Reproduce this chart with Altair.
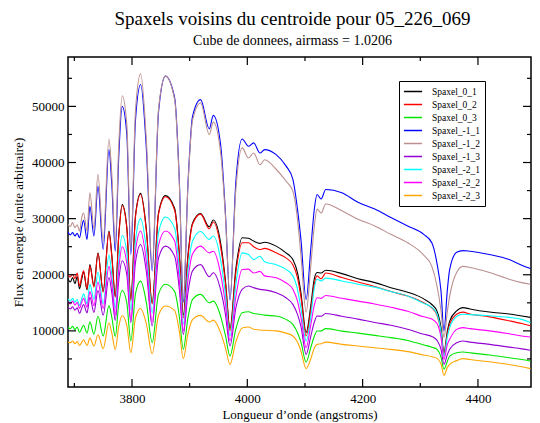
import altair as alt
import pandas as pd

WAVELENGTH = [3689, 3693, 3697, 3701, 3705, 3709, 3713, 3716, 3722, 3727,
              3734, 3741, 3750, 3760, 3765, 3771, 3777, 3783, 3791, 3798,
              3806, 3815, 3825, 3835, 3846, 3858, 3874, 3882, 3889, 3897,
              3905, 3919, 3934, 3941, 3954, 3962, 3970, 3980, 3991, 4002,
              4011, 4022, 4030, 4050, 4067, 4079, 4087, 4093, 4102, 4110,
              4116, 4121, 4128, 4136, 4164, 4192, 4221, 4249, 4278, 4306,
              4320, 4329, 4336, 4341, 4347, 4351, 4363, 4374, 4386, 4420,
              4454, 4476, 4491]

SPAXEL_0_1 = [19300, 18700, 19500, 18400, 19700, 17500, 19300, 20500, 17300, 21800,
              18000, 23900, 17100, 27800, 23500, 16200, 27000, 32500, 28500, 15600,
              30500, 34500, 28000, 15000, 31000, 34100, 31800, 24000, 12800, 23500,
              29200, 30900, 28550, 29750, 25500, 19000, 10500, 21000, 26600, 26500,
              26000, 25600, 25800, 25100, 23900, 22700, 20400, 16800, 9700, 14400,
              19200, 20400, 20300, 20800, 20200, 19300, 18600, 17700, 16900, 15700,
              14700, 13500, 10500, 6120, 10000, 11750, 13550, 14150, 13900, 13350,
              13000, 12650, 12400]

SPAXEL_0_2 = [20000, 19600, 20100, 19300, 20300, 18000, 19800, 20700, 17500, 21600,
              17800, 23800, 16900, 27600, 23200, 16000, 26800, 32300, 28200, 15300,
              30300, 34300, 27700, 14800, 30800, 33900, 31500, 23500, 12300, 23000,
              29000, 30800, 28200, 29400, 24800, 18500, 10000, 20300, 25700, 25700,
              25000, 24500, 24700, 23900, 23000, 21800, 19500, 16000, 9100, 13600,
              18300, 19800, 19300, 20300, 19500, 18700, 17900, 17000, 16200, 15000,
              14100, 12800, 9800, 5800, 9500, 11150, 12950, 13350, 13000, 12500,
              11800, 11300, 10900]

SPAXEL_0_3 = [10600, 10400, 10800, 10200, 10700, 9700, 10500, 11000, 9600, 11600,
              9400, 12600, 9080, 14500, 12400, 9000, 14800, 17200, 15000, 8200,
              16600, 18870, 15000, 7900, 16600, 18300, 17000, 12600, 6710, 12300,
              15600, 16500, 15020, 15300, 12500, 9200, 5520, 10300, 13240, 13400,
              13100, 12950, 12800, 12640, 12050, 11160, 9680, 8000, 4450, 7000,
              9000, 9970, 10000, 10400, 9950, 9600, 9200, 8800, 8300, 7500,
              7100, 6700, 5300, 3150, 4600, 5500, 6100, 6230, 6100, 5700,
              5200, 4900, 4630]

SPAXEL_M1_1 = [27600, 27100, 27500, 26900, 27400, 26600, 28600, 29700, 26300, 32200,
               26900, 35800, 24500, 42300, 36000, 24200, 41000, 50000, 45000, 23600,
               47500, 53900, 42300, 20700, 49000, 55400, 51500, 37000, 15100, 36000,
               48200, 51200, 46000, 48400, 42900, 31000, 15500, 36400, 44200, 42900,
               43500, 41700, 42300, 41400, 39400, 37000, 31700, 26300, 15600, 24500,
               31500, 34300, 33500, 35200, 34600, 32900, 31700, 30200, 28700, 27200,
               25700, 22000, 17000, 9970, 17400, 20950, 24000, 24300, 24200, 23600,
               22700, 21700, 21100]

SPAXEL_M1_2 = [29000, 28600, 29300, 28400, 28900, 27800, 30300, 31000, 27800, 34600,
               28200, 37900, 26000, 44200, 37800, 25500, 43000, 51900, 46800, 24800,
               49200, 55800, 43800, 21500, 49500, 55400, 51200, 36500, 15800, 35800,
               47500, 50600, 45000, 47200, 41500, 30500, 16000, 35000, 42600, 40800,
               41700, 39600, 40500, 38800, 36700, 34900, 29900, 23500, 13350, 21500,
               28500, 31700, 31000, 32600, 31400, 29900, 28700, 27200, 25700, 23500,
               21500, 18000, 13500, 8800, 13500, 16200, 20400, 21500, 21300, 20400,
               19200, 18600, 18300]

SPAXEL_M1_3 = [14200, 13900, 14300, 13700, 14100, 13100, 14100, 14700, 13200, 16000,
               13300, 17200, 12800, 19500, 16800, 11900, 19000, 22500, 20000, 11500,
               22200, 25400, 20500, 10900, 23000, 25100, 23300, 17500, 9380, 16800,
               20700, 21800, 19650, 20360, 17200, 13000, 7300, 14000, 17400, 18000,
               17700, 17400, 17300, 16800, 15900, 14720, 12940, 10800, 5800, 9000,
               11500, 12650, 12600, 13100, 12600, 12100, 11500, 11000, 10300, 9400,
               9000, 8300, 6700, 4040, 5800, 6720, 7900, 8200, 8000, 7600,
               7100, 6800, 6540]

SPAXEL_M2_1 = [15700, 15300, 15800, 15100, 15600, 14500, 15800, 16600, 14800, 18300,
               15600, 20500, 14800, 23500, 20000, 14000, 22500, 27000, 24000, 13700,
               26000, 30000, 24500, 13200, 27500, 30300, 28300, 21000, 11200, 20800,
               26000, 27700, 26300, 26900, 22500, 16500, 9100, 18200, 23900, 23600,
               22700, 23300, 22300, 21800, 20950, 19800, 17400, 14000, 8200, 12500,
               17500, 19200, 18900, 19400, 18900, 18300, 17800, 17000, 16200, 14900,
               14200, 13000, 9800, 5500, 9000, 10600, 12550, 12950, 12900, 12700,
               12400, 12050, 11500]

SPAXEL_M2_2 = [15200, 14800, 15300, 14600, 15100, 14000, 15200, 15800, 14200, 17000,
               14500, 18700, 14000, 21500, 18500, 12800, 21000, 25000, 22000, 11900,
               24200, 27800, 22300, 11600, 25300, 27800, 26000, 19000, 9970, 19000,
               23700, 25100, 23900, 24200, 20000, 14800, 8200, 16000, 20950, 21000,
               20300, 20600, 19800, 19470, 18580, 17400, 15300, 12400, 7000, 11000,
               14500, 15900, 15800, 16300, 15800, 15300, 14800, 14200, 13500, 12500,
               12100, 11300, 8800, 4930, 7600, 8500, 10270, 10580, 10400, 10000,
               9500, 9100, 8900]

SPAXEL_M2_3 = [8000, 7900, 8200, 7700, 8100, 7400, 8000, 8400, 7400, 8700,
               7300, 9300, 6830, 11400, 9600, 6700, 10800, 12700, 11000, 6120,
               12300, 14000, 11200, 5950, 12800, 14420, 13600, 10000, 5060, 9500,
               12000, 12760, 11570, 11920, 9600, 7000, 4040, 8000, 10500, 10700,
               10300, 10150, 10100, 10000, 9600, 9080, 8000, 6400, 3280, 5000,
               6900, 7600, 7700, 8000, 7600, 7300, 7000, 6700, 6300, 5700,
               5400, 5100, 4100, 2080, 3500, 4040, 4700, 5050, 4900, 4500,
               4000, 3600, 3280]

SERIES = ["Spaxel_0_1", "Spaxel_0_2", "Spaxel_0_3", "Spaxel_-1_1", "Spaxel_-1_2",
          "Spaxel_-1_3", "Spaxel_-2_1", "Spaxel_-2_2", "Spaxel_-2_3"]
VALUES = [SPAXEL_0_1, SPAXEL_0_2, SPAXEL_0_3, SPAXEL_M1_1, SPAXEL_M1_2,
          SPAXEL_M1_3, SPAXEL_M2_1, SPAXEL_M2_2, SPAXEL_M2_3]
COLORS = ["#000000", "#ff0000", "#00e600", "#0000ff", "#bc8f8f",
          "#9400d3", "#00ffff", "#ff00ff", "#ffa500"]

X_MAJOR = [3800, 4000, 4200, 4400]
X_MINOR = [3700, 3900, 4100, 4300]
Y_MAJOR = [10000, 20000, 30000, 40000, 50000]
Y_MINOR = [5000, 15000, 25000, 35000, 45000, 55000]
X_DOMAIN = [3689, 4492]
Y_DOMAIN = [0, 58800]

W, H = 463, 330
SERIF = "Liberation Serif, Times New Roman, Times, serif"

rows = []
for k, (name, vals) in enumerate(zip(SERIES, VALUES)):
    for w, v in zip(WAVELENGTH, vals):
        rows.append({"series": name, "k": k, "wl": w, "flux": v})
df = pd.DataFrame(rows)

xscale = alt.Scale(domain=X_DOMAIN, nice=False, zero=False)
yscale = alt.Scale(domain=Y_DOMAIN, nice=False, zero=False)

lines = alt.Chart(df).mark_line(strokeWidth=1.1, clip=True, interpolate="monotone").encode(
    x=alt.X("wl:Q", scale=xscale,
            axis=alt.Axis(values=X_MAJOR, ticks=False, domain=False, grid=False,
                          format="d", title="Longueur d\u2019onde (angstroms)",
                          labelFont=SERIF, labelFontSize=13, labelColor="black",
                          labelPadding=5, titleFont=SERIF, titleFontSize=13,
                          titleFontWeight="normal", titleColor="black", titlePadding=3)),
    y=alt.Y("flux:Q", scale=yscale,
            axis=alt.Axis(values=Y_MAJOR, ticks=False, domain=False, grid=False,
                          format="d", title="Flux en energie (unite arbitraire)",
                          labelFont=SERIF, labelFontSize=13, labelColor="black",
                          labelPadding=4, titleFont=SERIF, titleFontSize=13,
                          titleFontWeight="normal", titleColor="black", titlePadding=6)),
    color=alt.Color("series:N", sort=SERIES,
                    scale=alt.Scale(domain=SERIES, range=COLORS),
                    legend=alt.Legend(orient="none", legendX=331, legendY=24, title=None,
                                      symbolType="stroke", symbolSize=330,
                                      symbolStrokeWidth=1.5, labelFont=SERIF,
                                      labelFontSize=9.5, labelColor="black",
                                      fillColor="white", strokeColor="black",
                                      padding=4, clipHeight=13, rowPadding=0,
                                      labelOffset=9)),
    detail="k:O",
)


def xticks(vals, length, top):
    d = pd.DataFrame({"wl": vals})
    if top:
        ypos, y2pos = alt.value(0), alt.value(length)
    else:
        ypos, y2pos = alt.value(H), alt.value(H - length)
    return alt.Chart(d).mark_rule(color="black", strokeWidth=1.2).encode(
        x=alt.X("wl:Q", scale=xscale), y=ypos, y2=y2pos)


def yticks(vals, length, right):
    d = pd.DataFrame({"flux": vals})
    if right:
        xpos, x2pos = alt.value(W), alt.value(W - length)
    else:
        xpos, x2pos = alt.value(0), alt.value(length)
    return alt.Chart(d).mark_rule(color="black", strokeWidth=1.2).encode(
        y=alt.Y("flux:Q", scale=yscale), x=xpos, x2=x2pos)


ticks = [
    xticks(X_MAJOR, 8, False), xticks(X_MINOR, 4, False),
    xticks(X_MAJOR, 8, True), xticks(X_MINOR, 4, True),
    yticks(Y_MAJOR, 8, False), yticks(Y_MINOR, 4, False),
    yticks(Y_MAJOR, 8, True), yticks(Y_MINOR, 4, True),
]

chart = alt.layer(lines, *ticks).properties(
    width=W, height=H,
    background="white",
    autosize=alt.AutoSizeParams(type="none"),
    padding={"left": 60, "top": 49, "right": 1, "bottom": 36},
    title=alt.TitleParams(
        text="Spaxels voisins du centroide pour 05_226_069",
        subtitle="Cube de donnees, airmass = 1.0206",
        font=SERIF, fontSize=19, fontWeight="normal", color="black",
        subtitleFont=SERIF, subtitleFontSize=14, subtitleColor="black",
        anchor="middle", dx=-7, offset=8, subtitlePadding=5),
).configure_view(stroke="black", strokeWidth=1.5)

chart.save("out.html", embed_options={"renderer": "svg", "actions": False})
